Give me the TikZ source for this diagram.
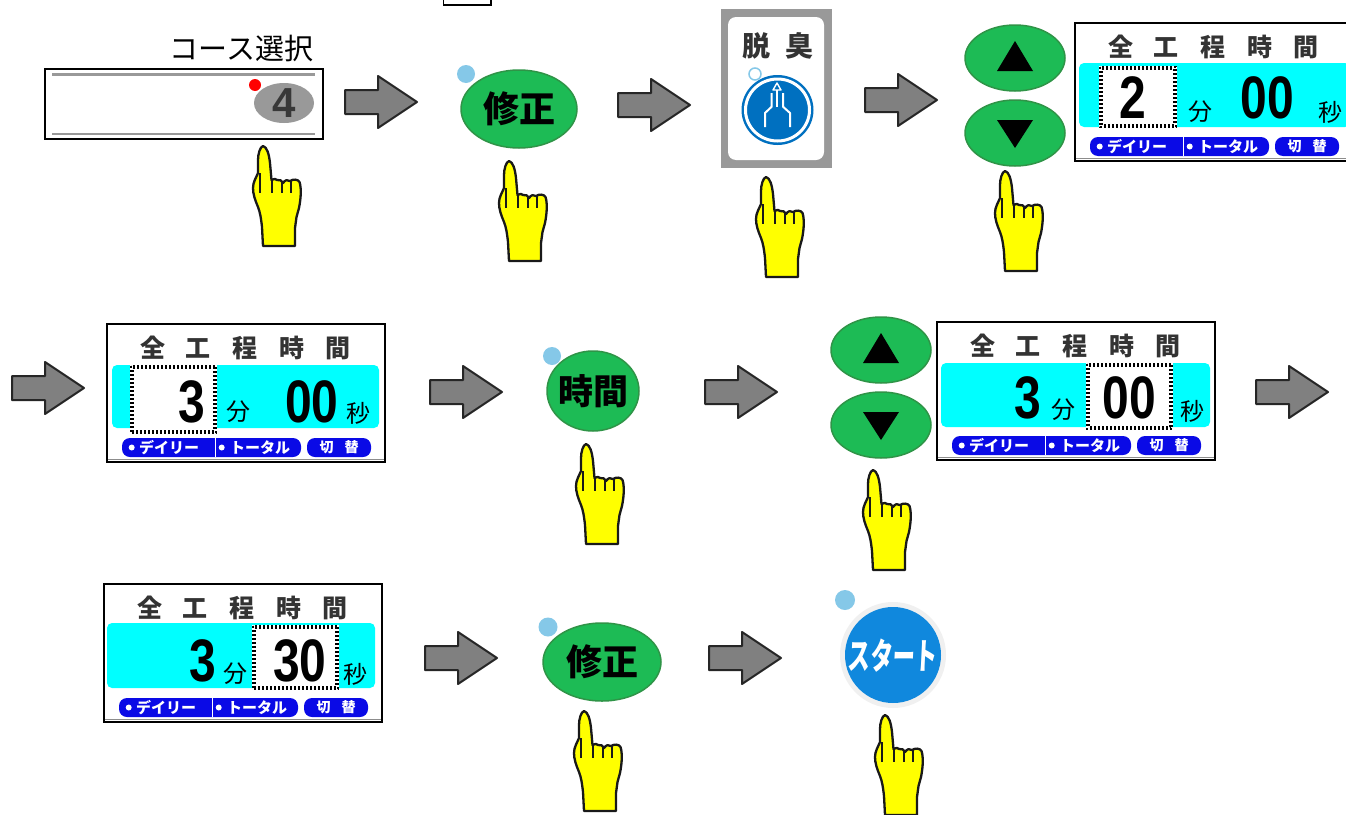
\documentclass[tikz,border=0pt]{standalone}
\usepackage{fontspec}
\setmainfont{Liberation Sans}
\newfontfamily\jp{Noto Sans CJK JP}
\definecolor{btngreen}{HTML}{1DBB55}
\definecolor{btnedge}{HTML}{2F9447}
\definecolor{dotblue}{HTML}{85C8E8}
\definecolor{startblue}{HTML}{1088DD}
\definecolor{signblue}{HTML}{0070C0}
\definecolor{arrowgrey}{HTML}{808080}
\definecolor{lcdblue}{HTML}{0A0AE6}
\definecolor{purecyan}{HTML}{00FFFF}
\definecolor{pureyellow}{HTML}{FFFF00}
\definecolor{purered}{HTML}{FF0000}
\newcommand\fs[1]{\fontsize{#1}{#1}\selectfont}
\tikzset{
  x=1pt,y=-1pt,
  txt/.style={inner sep=0pt,outer sep=0pt,font=\jp},
  titletxt/.style={inner sep=0pt,outer sep=0pt,text=black!80,font=\jp\bfseries},
  pilltxt/.style={inner sep=0pt,outer sep=0pt,text=white,font=\jp\bfseries},
  ledbtn/.style={draw=btnedge,line width=1.5,fill=btngreen},
  ledgone/.style={fill=dotblue},
  handpic/.pic={
    \draw[fill=pureyellow,line width=2.3,line join=round,draw=black!90]
      (0,0) .. controls (4,1) and (6,8) .. (7,17) -- (8.5,34)
      .. controls (11,32) and (13,33) .. (14,34) .. controls (17,33) and (19,35) .. (20,37)
      .. controls (22,34) and (25,33) .. (27,35) .. controls (30,33) and (35,33) .. (36.5,36)
      .. controls (38.5,42) and (38,52) .. (36,62) -- (33.5,71) -- (32,82) -- (32,100) -- (0,100)
      -- (-1,81) .. controls (-2,72) and (-3,66) .. (-5,61) .. controls (-8,54) and (-10,48) .. (-10,42)
      .. controls (-10,36) and (-7,32) .. (-5,27) -- (-5,14) .. controls (-5,8) and (-3,1) .. (0,0) -- cycle;
    \draw[line width=2,draw=black!90]
      (-3.5,27) -- (-3.5,47)
      (8.5,34) -- (8.5,47)
      (18.5,36) -- (18.5,47)
      (28,35) -- (28,47);
  },
  greyarrow/.pic={
    \draw[fill=arrowgrey,draw=black!85,line width=2,line join=round]
      (0,-12) -- (33,-12) -- (33,-26) -- (72,0) -- (33,26) -- (33,12) -- (0,12) -- cycle;
  },
  updown/.pic={
    \draw[ledbtn] (0,0) ellipse [x radius=50,y radius=33];
    \draw[ledbtn] (0,75) ellipse [x radius=50,y radius=33];
    \fill[black] (-18,13) -- (0,-17) -- (18,13) -- cycle;
    \fill[black] (-18,62) -- (18,62) -- (0,90) -- cycle;
  }
}
\newcommand\lcdframe[4]{%
  \draw[fill=white,draw=black,line width=2] (0,0) rectangle (278,138);
  \draw[black!45,line width=1] (1,135.5) -- (277,135.5);
  \fill[purecyan,rounded corners=5] (#1,#2) rectangle (#3,#4);
  \node[titletxt] at (46,24) {\fs{25}全};
  \node[titletxt] at (91,24) {\fs{25}工};
  \node[titletxt] at (138,24) {\fs{25}程};
  \node[titletxt] at (185,24) {\fs{25}時};
  \node[titletxt] at (231,24) {\fs{25}間};
  \fill[lcdblue,rounded corners=8] (15,114) rectangle (194,133);
  \fill[lcdblue,rounded corners=8] (200,114) rectangle (264,133);
  \draw[white,line width=0.8] (108,114) -- (108,133);
  \fill[white] (24.7,123.5) circle (3) (114.7,123.5) circle (3);
  \node[pilltxt] at (62,123.5) {\fs{15}デイリー};
  \node[pilltxt] at (153,123.5) {\fs{15}トータル};
  \node[pilltxt] at (219.7,123.5) {\fs{14}切};
  \node[pilltxt] at (244.7,123.5) {\fs{14}替};
}
\newcommand\lcdsel[4]{%
  \fill[white] (#1,#2) rectangle (#3,#4);
  \draw[black,line width=2,dash pattern=on 2pt off 2pt] (#1+1,#2+1) rectangle (#3-1,#4-1);
  \draw[black,line width=2,dash pattern=on 2pt off 2pt,dash phase=2pt] (#1+3,#2+3) rectangle (#3-3,#4-3);
}
\newcommand\lcdnum[3]{\node[txt,font=\bfseries,xscale=.8] at (#1,#2) {\fs{60}#3};}
\newcommand\lcdunit[3]{\node[txt] at (#1,#2) {\fs{24}#3};}
\begin{document}
\begin{tikzpicture}
\useasboundingbox (0,0) rectangle (1346,814);
\fill[white] (0,0) rectangle (1346,814);
% small box at the top
\draw[black,line width=1.5] (443.5,-2) rectangle (491,5);
% course selection
\node[txt] (coursetitle) at (241.5,49) {\fs{29}コース選択};
\draw[fill=white,draw=black,line width=2] (44.5,68.5) rectangle (323,139);
\draw[black!40,line width=2.5] (52,74.5) -- (315,74.5) (52,134) -- (315,134);
\fill[black!40] (284,103) ellipse [x radius=30,y radius=20];
\node[txt,black!78,font=\bfseries] (coursefour) at (284.5,103.5) {\fs{42}4};
\fill[purered] (255,85) circle (6);
\pic at (263,146) {handpic};
\pic at (345,102) {greyarrow};
% modify 1
\fill[ledgone] (466,74) circle (9);
\draw[ledbtn] (519,109) ellipse [x radius=58,y radius=39];
\node[txt,font=\jp\bfseries] (fix1) at (519,109) {\fs{36}修正};
\pic at (509,161) {handpic};
\pic at (618,105) {greyarrow};
% deodorize panel
\fill[black!40] (721,9) rectangle (832,168);
\fill[white,rounded corners=8] (728,17) rectangle (824,160);
\node[titletxt] (dassho) at (778,46) {\fs{28}脱\hspace{16pt}臭};
\fill[signblue] (777.5,110) ellipse [x radius=36,y radius=35];
\draw[white,line width=3] (777.5,110) ellipse [x radius=32,y radius=31];
\draw[white,line width=2,line join=round]
  (765,127) -- (765,113) -- (771.7,106.7) -- (771.7,93)
  (790,127) -- (790,113) -- (783,106.7) -- (783,93);
\draw[white,line width=1.4,line join=round] (773,90) -- (777,83) -- (781,90) -- cycle;
\draw[white,line width=1.3] (777,90) -- (777,107);
\draw[dotblue,line width=1.5] (755,74) circle (6);
\pic at (766,177) {handpic};
\pic at (865,100) {greyarrow};
% up-down 1
\pic at (1015,58) {updown};
\pic at (1005,171) {handpic};
\begin{scope}[shift={(1075,23)}]
  \lcdframe{4}{40}{275}{104}
  \lcdsel{24}{43}{102}{105}
  \lcdnum{58}{75}{2}
  \lcdunit{125}{89}{分}
  \lcdnum{192}{75}{00}
  \lcdunit{255}{89}{秒}
\end{scope}
% row 2
\pic at (12,388) {greyarrow};
\begin{scope}[shift={(107,324)}]
  \lcdframe{5}{41}{272}{104}
  \lcdsel{23}{41}{110}{110}
  \lcdnum{85}{78}{3}
  \lcdunit{131}{88}{分}
  \lcdnum{205}{78}{00}
  \lcdunit{251}{89}{秒}
\end{scope}
\pic at (430,392) {greyarrow};
\fill[ledgone] (552,356) circle (9);
\draw[ledbtn] (593,391) ellipse [x radius=46,y radius=40];
\node[txt,font=\jp\bfseries] (timebtn) at (593,391) {\fs{35}時間};
\pic at (586,444) {handpic};
\pic at (705,392) {greyarrow};
\pic at (881,350) {updown};
\pic at (873,470) {handpic};
\begin{scope}[shift={(937,322)}]
  \lcdframe{4}{41}{273}{105}
  \lcdsel{149}{41}{236}{108}
  \lcdnum{91}{76}{3}
  \lcdunit{126}{88}{分}
  \lcdnum{192}{76}{00}
  \lcdunit{255}{89}{秒}
\end{scope}
\pic at (1256,392) {greyarrow};
% row 3
\begin{scope}[shift={(104,584)}]
  \lcdframe{3}{39}{271}{104}
  \lcdsel{148}{41}{235}{106}
  \lcdnum{99}{77}{3}
  \lcdunit{131}{90}{分}
  \lcdnum{196}{77}{30}
  \lcdunit{251}{90}{秒}
\end{scope}
\pic at (425,658) {greyarrow};
\fill[ledgone] (548,627) circle (9.5);
\draw[ledbtn] (602,662) ellipse [x radius=59,y radius=39];
\node[txt,font=\jp\bfseries] (fix2) at (602,662) {\fs{36}修正};
\pic at (584,711) {handpic};
\pic at (709,658) {greyarrow};
\fill[ledgone] (845,600) circle (10);
\fill[black!6] (893,655) circle (53);
\fill[startblue] (893,655) circle (48);
\node[txt,white,font=\jp\bfseries,xscale=.62,xslant=.08] (startbtn) at (893,656) {\fs{36}スタート};
\pic at (885,715) {handpic};
\end{tikzpicture}
\end{document}
